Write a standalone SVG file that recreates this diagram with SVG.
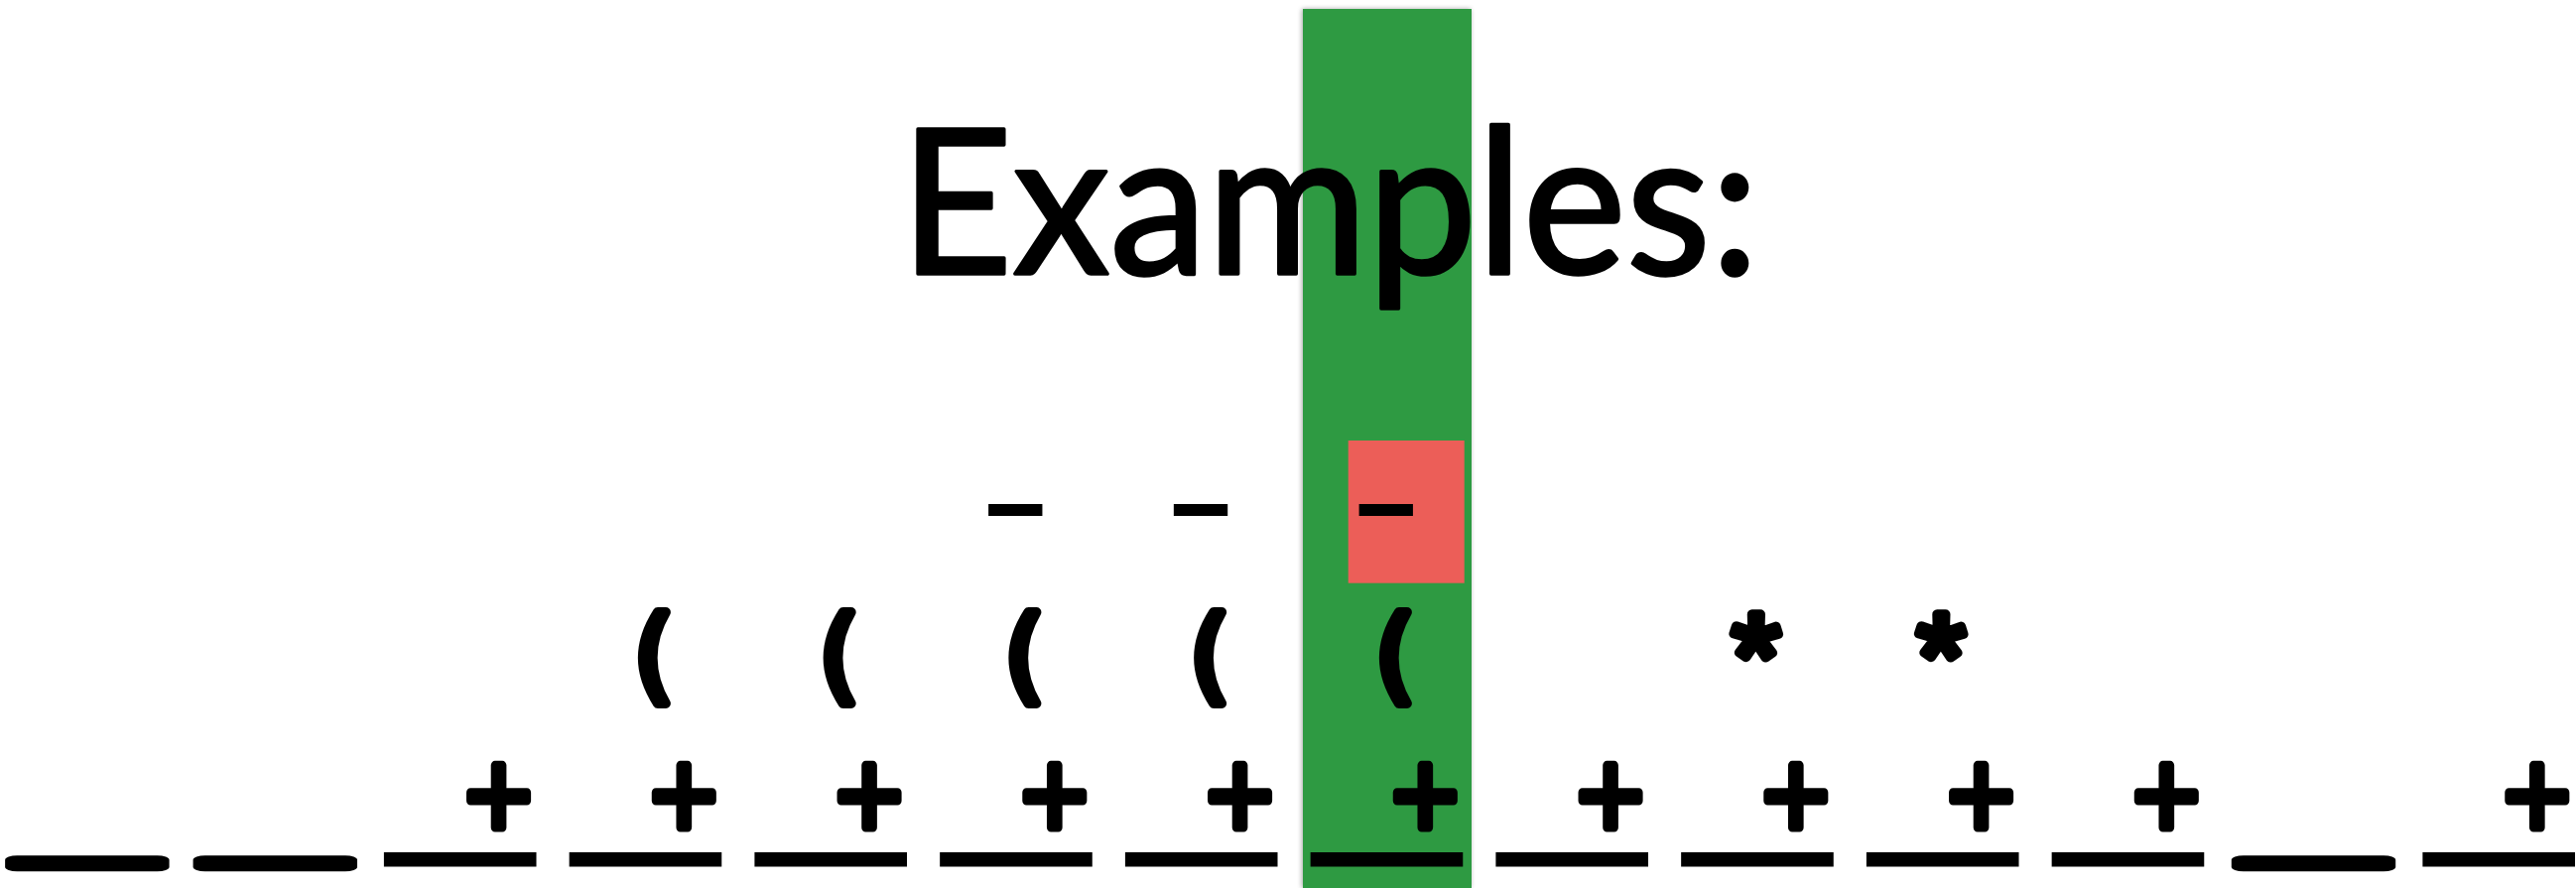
<svg xmlns="http://www.w3.org/2000/svg" width="2596" height="895" viewBox="0 0 2596 895">
<defs>
<filter id="sh" x="-10%" y="-2%" width="120%" height="104%">
<feGaussianBlur in="SourceAlpha" stdDeviation="2.5"/>
<feOffset dx="-1" dy="0" result="b"/>
<feComponentTransfer><feFuncA type="linear" slope="0.35"/></feComponentTransfer>
<feMerge><feMergeNode/><feMergeNode in="SourceGraphic"/></feMerge>
</filter>
</defs>
<style>
.t{font-family:Lato,"Liberation Sans",sans-serif;font-size:203px;fill:#000;stroke:#000;stroke-width:3.5px;stroke-linejoin:round}
.g{font-family:"DejaVu Sans",sans-serif;fill:#000;stroke:#000;stroke-linejoin:round;text-anchor:middle}
.plus{font-size:99.2px;stroke-width:9px}
.par{font-size:103px;stroke-width:10px}
.dash{font-size:150px;stroke-width:0}
.us{font-size:308px;stroke-width:0}
.usr{font-size:101.5px;stroke-width:9px}
.ast{font-family:Roboto,"DejaVu Sans",sans-serif;font-size:106px;stroke-width:9.5px}
</style>
<rect width="2596" height="895" fill="#ffffff"/>
<g id="band"><rect x="1313" y="9" width="170" height="886" fill="#2F9A43" filter="url(#sh)"/></g>
<g id="highlight"><rect x="1358.7" y="444" width="117" height="143.7" fill="#EC5E58"/></g>
<g id="title"><text class="t" x="1340" y="275.7" text-anchor="middle" textLength="866" lengthAdjust="spacingAndGlyphs">Examples:</text></g>
<g id="row-dash">
<text class="g dash" transform="translate(1023.2,555.1) scale(1.377,1)">-</text>
<text class="g dash" transform="translate(1209.95,555.1) scale(1.377,1)">-</text>
<text class="g dash" transform="translate(1396.7,555.1) scale(1.377,1)">-</text>
</g>
<g id="row-paren">
<text class="g par" transform="translate(659,695.9)">(</text>
<text class="g par" transform="translate(845.75,695.9)">(</text>
<text class="g par" transform="translate(1032.5,695.9)">(</text>
<text class="g par" transform="translate(1219.25,695.9)">(</text>
<text class="g par" transform="translate(1406,695.9)">(</text>
</g>
<g id="row-star">
<text class="g ast" transform="translate(1769.6,694) scale(1.05,1)">*</text>
<text class="g ast" transform="translate(1956.3,694) scale(1.05,1)">*</text>
</g>
<g id="row-plus">
<text class="g plus" transform="translate(502.5,834.2) scale(0.916,1)">+</text>
<text class="g plus" transform="translate(689.25,834.2) scale(0.916,1)">+</text>
<text class="g plus" transform="translate(876,834.2) scale(0.916,1)">+</text>
<text class="g plus" transform="translate(1062.75,834.2) scale(0.916,1)">+</text>
<text class="g plus" transform="translate(1249.5,834.2) scale(0.916,1)">+</text>
<text class="g plus" transform="translate(1436.25,834.2) scale(0.916,1)">+</text>
<text class="g plus" transform="translate(1623,834.2) scale(0.916,1)">+</text>
<text class="g plus" transform="translate(1809.75,834.2) scale(0.916,1)">+</text>
<text class="g plus" transform="translate(1996.5,834.2) scale(0.916,1)">+</text>
<text class="g plus" transform="translate(2183.25,834.2) scale(0.916,1)">+</text>
<text class="g plus" transform="translate(2556.75,834.2) scale(0.916,1)">+</text>
</g>
<g id="row-underscore">
<text class="g usr" transform="translate(87.85,849.9) scale(2.68,1)">_</text>
<text class="g usr" transform="translate(277.3,849.9) scale(2.68,1)">_</text>
<text class="g us" transform="translate(463.7,824.2) scale(0.96,0.68)">_</text>
<text class="g us" transform="translate(650.45,824.2) scale(0.96,0.68)">_</text>
<text class="g us" transform="translate(837.2,824.2) scale(0.96,0.68)">_</text>
<text class="g us" transform="translate(1023.95,824.2) scale(0.96,0.68)">_</text>
<text class="g us" transform="translate(1210.7,824.2) scale(0.96,0.68)">_</text>
<text class="g us" transform="translate(1397.45,824.2) scale(0.96,0.68)">_</text>
<text class="g us" transform="translate(1584.2,824.2) scale(0.96,0.68)">_</text>
<text class="g us" transform="translate(1770.95,824.2) scale(0.96,0.68)">_</text>
<text class="g us" transform="translate(1957.7,824.2) scale(0.96,0.68)">_</text>
<text class="g us" transform="translate(2144.45,824.2) scale(0.96,0.68)">_</text>
<text class="g usr" transform="translate(2331.5,849.9) scale(2.68,1)">_</text>
<text class="g us" transform="translate(2518.2,824.2) scale(0.96,0.68)">_</text>
</g>
</svg>
